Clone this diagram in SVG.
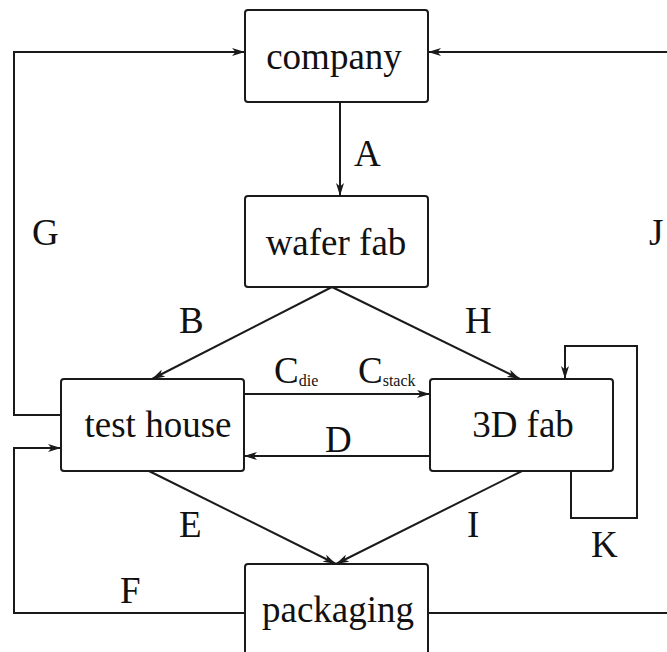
<svg xmlns="http://www.w3.org/2000/svg" width="667" height="652" viewBox="0 0 667 652">
  <style>
    .box { fill: #ffffff; stroke: #1a1a1a; stroke-width: 2; }
    .edge { fill: none; stroke: #1a1a1a; stroke-width: 2; }
    text { font-family: 'Liberation Serif', 'Times New Roman', Times, serif; font-size: 37px; fill: #111111; }
    .mid { text-anchor: middle; }
    .sub { font-size: 16px; }
  </style>
  <defs>
    <marker id="arrow" viewBox="0 0 13 8" refX="13" refY="4" markerWidth="13" markerHeight="8" markerUnits="userSpaceOnUse" orient="auto">
      <path d="M0,0 L13,4 L0,8 L3.5,4 Z" fill="#1a1a1a"/>
    </marker>
  </defs>
  <rect width="667" height="652" fill="#ffffff"/>

  <g id="connectors">
    <path class="edge" d="M340,102 V196" marker-end="url(#arrow)"/>
    <path class="edge" d="M332,287 L152,379" marker-end="url(#arrow)"/>
    <path class="edge" d="M332,287 L520,379" marker-end="url(#arrow)"/>
    <path class="edge" d="M244,394 H430" marker-end="url(#arrow)"/>
    <path class="edge" d="M430,456 H244" marker-end="url(#arrow)"/>
    <path class="edge" d="M149,471 L336,564" marker-end="url(#arrow)"/>
    <path class="edge" d="M522,471 L336,564" marker-end="url(#arrow)"/>
    <path class="edge" d="M61,415 H14 V52 H245" marker-end="url(#arrow)"/>
    <path class="edge" d="M428,613 H675 V52 H428" marker-end="url(#arrow)"/>
    <path class="edge" d="M245,613 H14 V448 H61" marker-end="url(#arrow)"/>
    <path class="edge" d="M571,471 V518 H637 V346 H565 V379" marker-end="url(#arrow)"/>
  </g>

  <g id="node-company">
    <rect class="box" x="245" y="10" width="183" height="92" rx="3"/>
    <text class="mid" x="334" y="69">company</text>
  </g>
  <g id="node-wafer-fab">
    <rect class="box" x="245" y="196" width="183" height="91" rx="3"/>
    <text class="mid" x="336" y="255">wafer fab</text>
  </g>
  <g id="node-test-house">
    <rect class="box" x="61" y="379" width="183" height="92" rx="3"/>
    <text class="mid" x="158" y="437">test house</text>
  </g>
  <g id="node-3d-fab">
    <rect class="box" x="430" y="379" width="183" height="92" rx="3"/>
    <text class="mid" x="523" y="437">3D fab</text>
  </g>
  <g id="node-packaging">
    <rect class="box" x="245" y="564" width="183" height="95" rx="3"/>
    <text class="mid" x="338" y="622">packaging</text>
  </g>

  <g id="edge-labels">
    <text x="354" y="166">A</text>
    <text x="32" y="245">G</text>
    <text x="649" y="245">J</text>
    <text x="179" y="333">B</text>
    <text x="465" y="333">H</text>
    <text x="274" y="383">C<tspan class="sub" dy="3">die</tspan></text>
    <text x="358" y="383">C<tspan class="sub" dy="3">stack</tspan></text>
    <text x="325" y="452">D</text>
    <text x="179" y="537">E</text>
    <text x="467" y="537">I</text>
    <text x="591" y="557">K</text>
    <text x="120" y="603">F</text>
  </g>
</svg>
